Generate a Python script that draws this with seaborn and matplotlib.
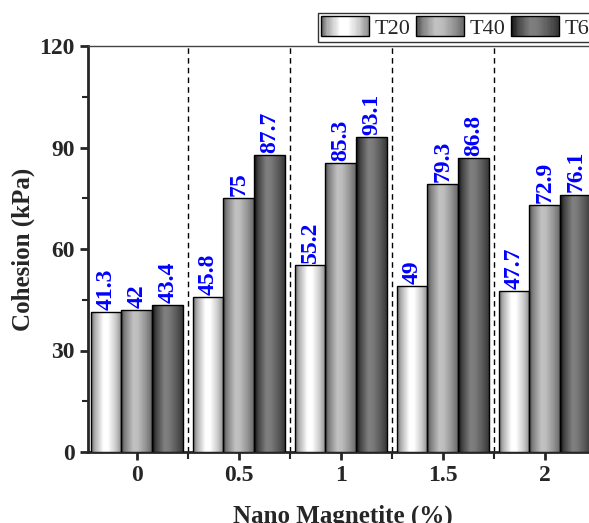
import numpy as np
import pandas as pd
import seaborn as sns
import matplotlib.pyplot as plt
from matplotlib.patches import Rectangle
from matplotlib.legend_handler import HandlerBase
from matplotlib.ticker import MultipleLocator

# data
doses = ['0', '0.5', '1', '1.5', '2']
series = ['T20', 'T40', 'T60']
t20 = [41.3, 45.8, 55.2, 49, 47.7]
t40 = [42, 75, 85.3, 79.3, 72.9]
t60 = [43.4, 87.7, 93.1, 86.8, 76.1]

df = pd.DataFrame({
    'dose': doses * 3,
    'temp': [s for s in series for _ in doses],
    'val': t20 + t40 + t60,
})

# grey level profiles across each bar (left -> right)
prof = {
    'T20': ([0, 0.12, 0.4, 0.55, 0.8, 1], [0.42, 0.68, 1.0, 1.0, 0.8, 0.55]),
    'T40': ([0, 0.12, 0.4, 0.55, 0.8, 1], [0.30, 0.50, 0.76, 0.74, 0.58, 0.42]),
    'T60': ([0, 0.12, 0.4, 0.55, 0.8, 1], [0.05, 0.25, 0.50, 0.48, 0.35, 0.22]),
}

def grad(name, n=64):
    t = np.linspace(0, 1, n)
    g = np.interp(t, *prof[name])
    return np.dstack([g, g, g])

sns.set_style('ticks')
plt.rcParams['font.family'] = ['Liberation Serif', 'DejaVu Serif']
plt.rcParams['font.weight'] = 'bold'

fig = plt.figure(figsize=(5.89, 5.23), dpi=100)
ax = fig.add_axes([88/589, 71/523, 510/589, 406/523])

sns.barplot(data=df, x='dose', y='val', hue='temp', order=doses, hue_order=series,
            width=0.91, gap=0, palette=['white'] * 3, edgecolor='black', linewidth=1,
            legend=False, ax=ax, zorder=3)

for i, s in enumerate(series):
    cont = ax.containers[i]
    for bar, v in zip(cont, [t20, t40, t60][i]):
        x0, y0 = bar.get_x(), bar.get_y()
        w, h = bar.get_width(), bar.get_height()
        im = ax.imshow(grad(s), extent=[x0, x0 + w, y0, y0 + h], aspect='auto',
                       origin='lower', zorder=3, interpolation='bilinear')
        im.set_clip_path(bar)
        bar.set_facecolor('none')
        bar.set_zorder(4)
        ax.text(x0 + w / 2, y0 + h + 0.6, f'{v:g}', rotation=90, ha='center', va='bottom',
                color='#0000ff', fontsize=17, fontweight='bold', zorder=5)

for xb in [0.5, 1.5, 2.5, 3.5, 4.5]:
    ax.axvline(xb, color='black', lw=1, ls=(0, (4, 3)), zorder=1)

ax.set_xlim(-0.48, 4.52)
ax.set_ylim(0, 120)
ax.yaxis.set_major_locator(MultipleLocator(30))
ax.yaxis.set_minor_locator(MultipleLocator(15))
ax.xaxis.set_minor_locator(MultipleLocator(0.5))
ax.tick_params(axis='both', which='major', direction='out', length=6, width=2, labelsize=17)
ax.tick_params(axis='both', which='minor', direction='out', length=4, width=1.5)
ax.tick_params(axis='x', which='minor', length=5)
for lab in ax.get_xticklabels() + ax.get_yticklabels():
    lab.set_fontweight('bold')

for sp in ['left', 'bottom']:
    ax.spines[sp].set_linewidth(2)
ax.spines['top'].set_linewidth(1)
ax.spines['top'].set_color('#444444')
ax.spines['right'].set_linewidth(1)

ax.set_xlabel('Nano Magnetite (%)', fontsize=18, fontweight='bold', labelpad=13)
ax.set_ylabel('Cohesion (kPa)', fontsize=18, fontweight='bold', labelpad=3)


class GradHandler(HandlerBase):
    def create_artists(self, legend, orig_handle, xdescent, ydescent, width, height, fontsize, trans):
        name = orig_handle.get_label()
        n = 40
        g = grad(name, n)[0]
        arts = []
        for k in range(n):
            r = Rectangle((-xdescent + k * width / n, -ydescent), width / n + 0.3, height,
                          facecolor=g[k], edgecolor='none', transform=trans)
            arts.append(r)
        arts.append(Rectangle((-xdescent, -ydescent), width, height, facecolor='none',
                              edgecolor='black', lw=1, transform=trans))
        return arts


handles = [Rectangle((0, 0), 1, 1, label=s) for s in series]
leg = fig.legend(handles=handles, labels=series, loc='upper left', ncol=3,
                 bbox_to_anchor=(318/589, 1 - 13/523), bbox_transform=fig.transFigure,
                 handler_map={Rectangle: GradHandler()}, frameon=True, fancybox=False,
                 edgecolor='black', fontsize=16, handlelength=2.15, handleheight=1.0,
                 handletextpad=0.25, columnspacing=0.25, borderpad=0.15, borderaxespad=0)
leg.get_frame().set_linewidth(1)
for t in leg.get_texts():
    t.set_fontweight('normal')

plt.savefig('out.png', dpi=100)
